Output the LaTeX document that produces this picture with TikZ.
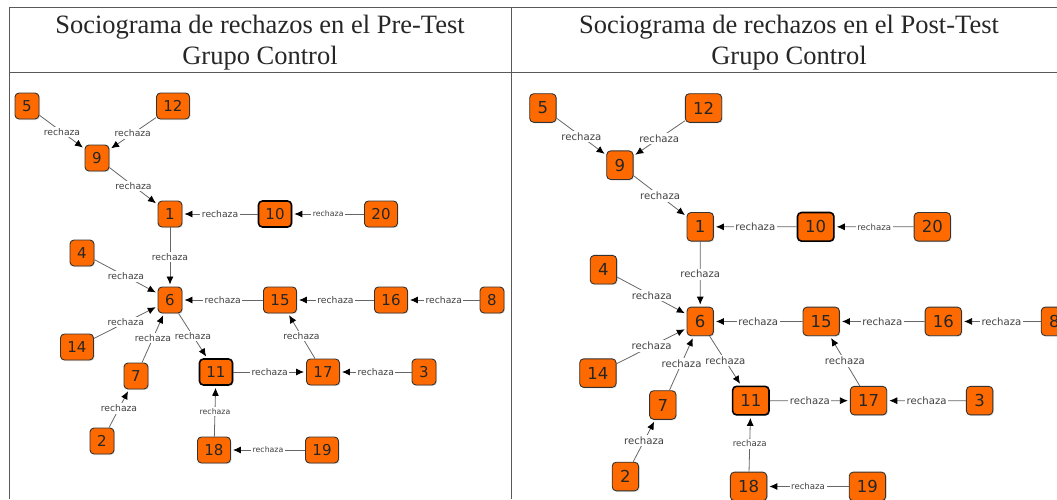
\documentclass[tikz,border=0pt]{standalone}
\usepackage{fontspec}
\setmainfont{Liberation Serif}
\newfontfamily\numfont{DejaVu Sans}
\usetikzlibrary{arrows.meta, shadows}
\definecolor{socio}{RGB}{255,106,0}

\begin{document}
\begin{tikzpicture}[
    x=1pt, y=-1pt,
    grid/.style={draw=black!65, line width=0.9pt},
    title/.style={font=\fontsize{26.5}{30.5}\selectfont, align=center, text=black!85},
    alumno/.style={rectangle, draw=black!80, line width=0.9pt, rounded corners=4pt, fill=socio,
        minimum width=24pt, minimum height=26pt, inner xsep=7pt, inner ysep=2pt,
        font=\numfont\fontsize{15}{15}\selectfont, text=black!85,
        drop shadow={opacity=0.25, shadow xshift=1pt, shadow yshift=-1pt}},
    elegido/.style={alumno, line width=1.6pt, draw=black},
    link/.style={draw=black!60, line width=0.8pt, shorten >=2pt,
        -{Latex[length=8pt, width=7pt, color=black]}},
    rel/.style={fill=white, inner sep=1.5pt, text=black!75, font=\numfont\fontsize{9.2}{9.2}\selectfont},
    relsmall/.style={rel, font=\numfont\fontsize{7.8}{7.8}\selectfont}
]
\useasboundingbox (0,0) rectangle (1057,499);

% Table
\draw[grid] (9,7) -- (1057,7);
\draw[grid] (9,72) -- (1057,72);
\draw[grid] (9,7) -- (9,499);
\draw[grid] (511,7) -- (511,499);

% Headers
\node[title] (titpre) at (260,42.5) {Sociograma de rechazos en el Pre-Test\\Grupo Control};
\node[title] (titpost) at (789,42.5) {Sociograma de rechazos en el Post-Test\\Grupo Control};

% Sociograms (same layout, right one scaled)
\foreach \p/\dx/\dy/\sc in {a/0/0/1, b/513.2/-8.6/1.1} {
  \begin{scope}[shift={(\dx,\dy)}, scale=\sc, transform shape]
    % students
    \foreach \n/\x/\y/\st in {1/170/214/alumno, 2/102/441/alumno, 3/424/372/alumno,
        4/82/253/alumno, 5/27/106/alumno, 6/170/300/alumno, 7/136/376/alumno,
        8/492/300/alumno, 9/97/158/alumno, 10/275/214/elegido, 11/216/372/elegido,
        12/173/106/alumno, 14/77/347/alumno, 15/280/300/alumno, 16/391/300/alumno,
        17/323/372/alumno, 18/214/450/alumno, 19/322/450/alumno, 20/381/214/alumno} {
      \node[\st] (\p\n) at (\x,\y) {\n};
    }
    % rejections
    \foreach \a/\b/\s in {5/9/rel, 12/9/rel, 9/1/rel, 10/1/rel, 20/10/relsmall,
        1/6/rel, 4/6/rel, 15/6/rel, 16/15/rel, 8/16/rel, 14/6/rel, 7/6/rel,
        6/11/rel, 11/17/rel, 17/15/rel, 3/17/rel, 2/7/rel, 18/11/relsmall, 19/18/relsmall} {
      \draw[link] (\p\a) -- node[\s] {rechaza} (\p\b);
    }
  \end{scope}
}

\end{tikzpicture}
\end{document}
